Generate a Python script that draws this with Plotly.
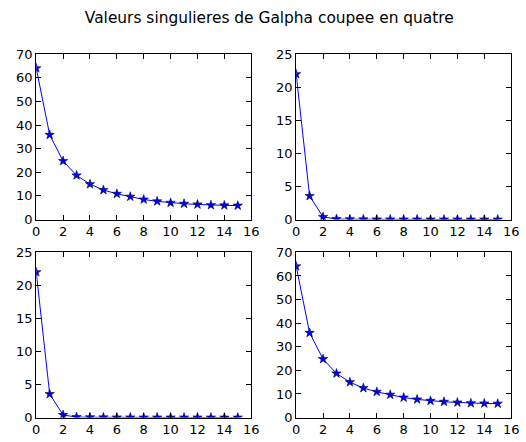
import plotly.graph_objects as go
from plotly.subplots import make_subplots

# Singular values of each quarter of Galpha
idx = list(range(16))
sv_q1 = [64.1, 35.9, 24.8, 18.7, 15.0, 12.5, 10.9, 9.7, 8.5, 7.7, 7.1, 6.7, 6.4, 6.1, 6.0, 5.9]
sv_q2 = [22.0, 3.56, 0.39, 0.08, 0.05, 0.03, 0.02, 0.02, 0.01, 0.01, 0.01, 0.01, 0.01, 0.0, 0.0, 0.0]
sv_q3 = [22.0, 3.56, 0.39, 0.08, 0.05, 0.03, 0.02, 0.02, 0.01, 0.01, 0.01, 0.01, 0.01, 0.0, 0.0, 0.0]
sv_q4 = [64.1, 35.9, 24.8, 18.7, 15.0, 12.5, 10.9, 9.7, 8.5, 7.7, 7.1, 6.7, 6.4, 6.1, 6.0, 5.9]

title = "Valeurs singulieres de Galpha coupee en quatre"

W, H = 526, 442
fig = make_subplots(rows=2, cols=2)

series = [(sv_q1, 1, 1, 70, 10), (sv_q2, 1, 2, 25, 5),
          (sv_q3, 2, 1, 25, 5), (sv_q4, 2, 2, 70, 10)]

for vals, r, c, ymax, dy in series:
    fig.add_trace(go.Scatter(
        x=idx, y=vals, mode="lines+markers",
        line=dict(color="#0000ff", width=1),
        marker=dict(symbol="star", size=7, color="#0000ff",
                    line=dict(color="#000033", width=0.6)),
        showlegend=False), row=r, col=c)
    axstyle = dict(showgrid=False, zeroline=False, showline=True,
                   linecolor="black", linewidth=1, mirror="ticks",
                   ticks="inside", ticklen=5, tickcolor="black",
                   tickfont=dict(family="DejaVu Sans", size=13, color="black"))
    fig.update_xaxes(range=[0, 16], dtick=2, tick0=0, row=r, col=c, **axstyle)
    fig.update_yaxes(range=[0, ymax], dtick=dy, tick0=0, row=r, col=c, **axstyle)

# Axes placement in the figure
xl = [33 / W, 253 / W]
xr = [299 / W, 519 / W]
yt = [1 - 220 / H, 1 - 49 / H]
yb = [1 - 425 / H, 1 - 254 / H]
fig.update_layout(
    xaxis=dict(domain=xl), yaxis=dict(domain=yt),
    xaxis2=dict(domain=xr), yaxis2=dict(domain=yt),
    xaxis3=dict(domain=xl), yaxis3=dict(domain=yb),
    xaxis4=dict(domain=xr), yaxis4=dict(domain=yb),
)

fig.update_layout(
    width=W, height=H,
    margin=dict(l=0, r=0, t=0, b=0),
    paper_bgcolor="white", plot_bgcolor="white",
    title=dict(text=title, x=0.512, xanchor="center", y=1 - 18 / H, yanchor="middle",
               font=dict(family="DejaVu Sans", size=15.4, color="black")),
)

fig.write_html("out.html")
